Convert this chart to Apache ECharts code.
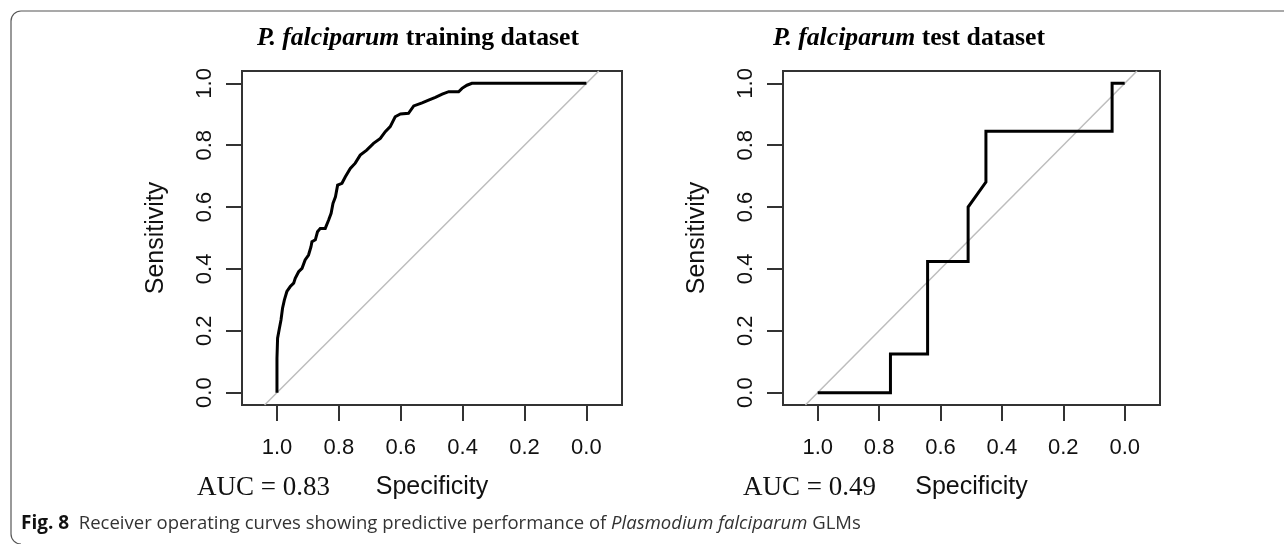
<!DOCTYPE html>
<html><head><meta charset="utf-8">
<script src="https://cdn.jsdelivr.net/npm/echarts@6/dist/echarts.min.js"></script>
<style>html,body{margin:0;padding:0;background:#fff}#c{width:1284px;height:544px}</style>
</head><body><div id="c"></div>
<script>
// ---- data ----
const tickValues = [0, 0.2, 0.4, 0.6, 0.8, 1.0];
const trainSpec = [1.0, 1.0, 0.998, 0.998, 0.993, 0.987, 0.982, 0.976, 0.968, 0.957,
  0.946, 0.941, 0.930, 0.919, 0.909, 0.898, 0.890, 0.887, 0.876, 0.869,
  0.860, 0.844, 0.833, 0.825, 0.819, 0.811, 0.804, 0.790, 0.779, 0.763,
  0.747, 0.731, 0.710, 0.688, 0.666, 0.650, 0.634, 0.618, 0.601, 0.575,
  0.558, 0.531, 0.510, 0.488, 0.466, 0.445, 0.413, 0.402, 0.386, 0.370, 0.0];
const trainSens = [0.0, 0.111, 0.117, 0.176, 0.203, 0.235, 0.273, 0.300, 0.327, 0.343,
  0.354, 0.370, 0.391, 0.402, 0.429, 0.445, 0.472, 0.488, 0.494, 0.520,
  0.531, 0.531, 0.558, 0.580, 0.612, 0.633, 0.671, 0.677, 0.698, 0.725,
  0.742, 0.768, 0.784, 0.806, 0.822, 0.844, 0.860, 0.892, 0.901, 0.903,
  0.927, 0.937, 0.946, 0.955, 0.965, 0.973, 0.973, 0.984, 0.994, 1.0, 1.0];
const testSpec = [1.0, 0.763, 0.763, 0.642, 0.642, 0.510, 0.510, 0.452, 0.452, 0.041, 0.041, 0.0];
const testSens = [0.0, 0.0, 0.125, 0.125, 0.424, 0.424, 0.600, 0.681, 0.845, 0.845, 1.0, 1.0];
const refSpec = [1.04, -0.04];   // chance diagonal (sensitivity = 1 - specificity)
const refSens = [-0.04, 1.04];
const titles = ['training dataset', 'test dataset'];
const aucValues = ['0.83', '0.49'];

const zip = (a, b) => a.map((v, i) => [v, b[i]]);

const boxColor = '#333';
const grids = [
  { left: 242, top: 71, width: 380, height: 334 },
  { left: 783, top: 71, width: 377, height: 334 }
].map(g => Object.assign(g, { show: true, borderColor: boxColor, borderWidth: 2, backgroundColor: 'transparent', containLabel: false }));

function xAxis(i) {
  return {
    type: 'value', gridIndex: i, inverse: true, min: -0.115, max: 1.113, position: 'bottom',
    name: 'Specificity', nameLocation: 'middle', nameGap: 70,
    nameTextStyle: { fontFamily: 'Liberation Sans', fontSize: 25, color: '#111' },
    axisLine: { show: true, onZero: false, lineStyle: { color: boxColor, width: 2 } },
    axisTick: { show: true, customValues: tickValues, length: 16, lineStyle: { color: boxColor, width: 2 } },
    axisLabel: { customValues: tickValues, formatter: v => v.toFixed(1), margin: 32,
      fontFamily: 'Liberation Sans', fontSize: 22, color: '#111' },
    splitLine: { show: false }
  };
}
function yAxis(i) {
  return {
    type: 'value', gridIndex: i, min: -0.04, max: 1.04, position: 'left',
    name: 'Sensitivity', nameLocation: 'middle', nameGap: 73,
    nameTextStyle: { fontFamily: 'Liberation Sans', fontSize: 25, color: '#111' },
    axisLine: { show: true, onZero: false, lineStyle: { color: boxColor, width: 2 } },
    axisTick: { show: true, customValues: tickValues, length: 16, lineStyle: { color: boxColor, width: 2 } },
    axisLabel: { customValues: tickValues, formatter: v => v.toFixed(1), margin: 26, rotate: 90,
      fontFamily: 'Liberation Sans', fontSize: 22, color: '#111' },
    splitLine: { show: false }
  };
}

function refLine(i) {
  return { type: 'line', xAxisIndex: i, yAxisIndex: i, data: zip(refSpec, refSens),
    showSymbol: false, clip: true, lineStyle: { color: '#bdbdbd', width: 1.5 }, z: 2, silent: true };
}
function rocLine(i, spec, sens) {
  return { type: 'line', xAxisIndex: i, yAxisIndex: i, data: zip(spec, sens),
    showSymbol: false, clip: true, lineStyle: { color: '#000', width: 3, join: 'miter' }, z: 3, silent: true };
}

const serifRich = {
  i: { fontFamily: 'Liberation Serif', fontSize: 25.7, fontWeight: 'bold', fontStyle: 'italic', fill: '#000' },
  b: { fontFamily: 'Liberation Serif', fontSize: 25.7, fontWeight: 'bold', fill: '#000' }
};
function titleText(x, t) {
  return { type: 'text', x: x, y: 38.5, style: { text: '{i|P. falciparum }{b|' + t + '}', rich: serifRich,
    textAlign: 'left', textVerticalAlign: 'middle' } };
}
function aucText(x, v) {
  return { type: 'text', x: x, y: 488, style: { text: 'AUC = ' + v, fontFamily: 'Liberation Serif', fontSize: 27, fill: '#111',
    textAlign: 'left', textVerticalAlign: 'middle' } };
}
const frameStyle = { stroke: '#555', lineWidth: 1.2, fill: null };

const chart = echarts.init(document.getElementById('c'), null, { renderer: 'canvas' });
chart.setOption({
  animation: false,
  backgroundColor: '#fff',
  grid: grids,
  xAxis: [xAxis(0), xAxis(1)],
  yAxis: [yAxis(0), yAxis(1)],
  series: [
    refLine(0), rocLine(0, trainSpec, trainSens),
    refLine(1), rocLine(1, testSpec, testSens)
  ],
  graphic: [
    { type: 'line', shape: { x1: 21, y1: 11, x2: 1284, y2: 11 }, style: frameStyle },
    { type: 'line', shape: { x1: 11, y1: 21, x2: 11, y2: 534 }, style: frameStyle },
    { type: 'arc', shape: { cx: 21, cy: 21, r: 10, startAngle: Math.PI, endAngle: Math.PI * 1.5, clockwise: true }, style: frameStyle },
    { type: 'arc', shape: { cx: 21, cy: 534, r: 10, startAngle: Math.PI * 0.5, endAngle: Math.PI, clockwise: true }, style: frameStyle },
    titleText(257, titles[0]),
    titleText(773, titles[1]),
    aucText(197, aucValues[0]),
    aucText(743, aucValues[1]),
    { type: 'text', x: 21, y: 524, style: {
      text: '{b|Fig. 8}{r|  Receiver operating curves showing predictive performance of }{i|Plasmodium falciparum}{r| GLMs}',
      rich: {
        b: { fontFamily: 'Open Sans', fontSize: 19, fontWeight: 'bold', fill: '#111' },
        r: { fontFamily: 'Open Sans', fontSize: 18.5, fill: '#333' },
        i: { fontFamily: 'Open Sans', fontSize: 18.5, fontStyle: 'italic', fill: '#333' }
      },
      textAlign: 'left', textVerticalAlign: 'middle' } }
  ]
});
</script>
</body></html>
